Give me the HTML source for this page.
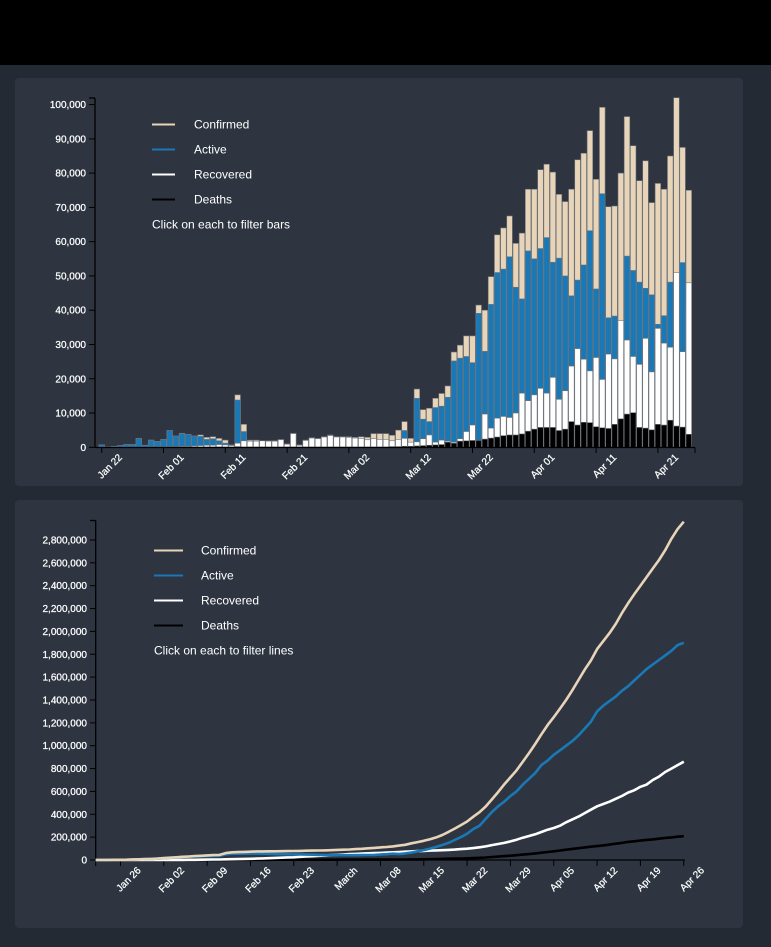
<!DOCTYPE html>
<html><head><meta charset="utf-8"><style>
html,body{margin:0;padding:0;background:#232a34;width:771px;height:947px;overflow:hidden;font-family:"Liberation Sans",sans-serif}
#top{position:absolute;left:0;top:0;width:771px;height:65px;background:#000}
.panel{position:absolute;left:15px;width:728px;background:#2e3540;border-radius:4px}
svg{position:absolute;left:0;top:0}
text{font-family:"Liberation Sans",sans-serif}
.tick{fill:#fff;font-size:10px;stroke:#fff;stroke-width:0.25}
.leg{fill:#fff;font-size:12px}
</style></head><body>
<div id="top"></div>
<div class="panel" style="top:78px;height:408px"></div>
<div class="panel" style="top:500px;height:428px"></div>
<svg id="chart" width="771" height="947"></svg>
<script>
// ---- Bar chart data (thousands, daily, Jan 22 .. Apr 26) ----
const barConfirmed=[0.7,0.1,0.3,0.5,0.8,0.8,2.6,0.6,2.1,1.7,2.3,4.9,3.3,4.1,3.8,3.3,3.6,2.9,3.1,2.6,2.1,0.7,15.3,6.7,2.1,2.1,1.9,1.9,1.9,2.3,1,4.1,0.7,2.1,2.8,2.6,3.1,3.6,3.1,3.1,3.1,2.9,3.1,2.9,4,4,4,3.5,5,7.5,2.6,17,11,11.4,14.3,15.7,17.9,27.8,29.8,32.5,32.5,41.5,40,49.8,62,64,67.5,59.5,62.5,75.3,75.3,81,82.6,80.3,73.8,71.7,75.3,83.9,85.8,92.4,78.2,99.2,70.2,70.4,80,96.5,88,77.8,83.6,71.4,77,75.3,85,102,87.5,75];
const barActive=[0.7,0.1,0.3,0.5,0.8,0.8,2.6,0.6,2.1,1.7,2.3,4.9,3.3,4,3.8,3.3,3.2,2.3,2.5,1.9,1.2,0.5,13.8,4.6,0,0,0,0,0,0,0,0,0,0,0,0,0,0,0,0,0,0,0,0,0.5,0.5,0.8,1,2,4.9,0.5,14.3,8.2,7.5,11.6,12,14.6,25.2,26,26.5,24.7,39.1,28,41.7,51,52,55.6,46.7,43.3,57.3,55,58,61.2,54,55.2,50,44.2,48.8,53.2,63.2,46.2,74,37.8,38.3,30,55.8,51.6,48.2,46.4,44.5,35.9,38.4,48.2,40,53.9,40];
const barRecovered=[0,0,0,0,0,0,0,0,0,0.1,0.1,0.2,0.2,0.3,0.3,0.4,0.5,0.6,0.6,0.8,0.7,0.5,1.2,1.9,1.8,1.8,1.9,1.8,1.8,2.2,0.9,4,0.6,2,2.7,2.5,3,3.4,3,3,2.9,2.7,2.6,2.2,2.5,2.3,2.3,1.9,2.3,2.6,1.5,1.6,2.5,3.6,1.5,2.1,1.8,1.5,2.5,4.6,6.5,1.5,9.7,5.6,8.5,9,8.7,10,15.8,13.6,15.3,17.2,15.8,20.4,14,16.5,23.7,28.8,25.7,22.3,26.2,19.8,27.2,25.8,37,31.3,26.5,24.2,31.8,22,34.7,30.4,29.2,51,27.9,48];
const barDeaths=[0,0,0,0,0,0,0,0,0.1,0.1,0.1,0.1,0.1,0.1,0.1,0.1,0.1,0.1,0.1,0.1,0.1,0.1,0.2,0.1,0.1,0.1,0.1,0.1,0.1,0.1,0.1,0.1,0.1,0.1,0.1,0.1,0.1,0.1,0.1,0.1,0.1,0.1,0.1,0.1,0.1,0.1,0.1,0.2,0.2,0.3,0.3,0.4,0.5,0.6,0.7,0.8,1.5,1.2,1.8,1.9,2,2,2.4,2.7,3,3.4,3.6,3.6,3.9,4.7,5.3,5.8,5.8,5.8,4.9,5.3,7.5,6.5,7.3,7.2,6,5.7,5.5,6.7,8.3,9.7,10.1,5.8,5.6,5.1,6.7,6.5,7.9,6.2,5.9,3.8];
const barYTicks=[0,10,20,30,40,50,60,70,80,90,100];
const barXTickDays=[0,10,20,30,40,50,60,70,80,90];
const barXTickLabels=["Jan 22","Feb 01","Feb 11","Feb 21","Mar 02","Mar 12","Mar 22","Apr 01","Apr 11","Apr 21"];
// ---- Line chart data (millions, cumulative) ----
const lineConfirmed=[0.0006,0.0006,0.0009,0.0014,0.0021,0.0029,0.0056,0.0062,0.0082,0.0099,0.012,0.017,0.020,0.024,0.028,0.031,0.034,0.037,0.040,0.043,0.045,0.060,0.067,0.069,0.071,0.073,0.075,0.075,0.076,0.076,0.077,0.078,0.079,0.080,0.081,0.082,0.083,0.084,0.086,0.088,0.090,0.092,0.095,0.098,0.102,0.106,0.110,0.114,0.119,0.126,0.133,0.146,0.157,0.168,0.182,0.198,0.219,0.246,0.275,0.305,0.337,0.379,0.418,0.468,0.530,0.594,0.661,0.723,0.785,0.860,0.935,1.015,1.100,1.180,1.250,1.325,1.400,1.485,1.575,1.665,1.745,1.845,1.915,1.985,2.065,2.160,2.245,2.325,2.400,2.475,2.550,2.625,2.710,2.810,2.895,2.960];
const lineActive=[0.0005,0.0006,0.0009,0.0013,0.002,0.0028,0.0054,0.0059,0.0079,0.0095,0.0115,0.016,0.019,0.0225,0.0255,0.028,0.0305,0.0325,0.0345,0.036,0.037,0.050,0.055,0.0555,0.056,0.0565,0.056,0.055,0.054,0.052,0.051,0.050,0.049,0.048,0.047,0.046,0.045,0.044,0.043,0.043,0.042,0.042,0.042,0.043,0.044,0.045,0.048,0.051,0.055,0.052,0.058,0.066,0.076,0.087,0.100,0.115,0.131,0.150,0.175,0.200,0.230,0.270,0.300,0.360,0.420,0.470,0.510,0.560,0.600,0.660,0.710,0.760,0.830,0.870,0.920,0.960,1.000,1.040,1.090,1.150,1.210,1.300,1.350,1.390,1.430,1.480,1.520,1.570,1.620,1.670,1.710,1.750,1.790,1.830,1.880,1.900];
const lineRecovered=[0,0,0,0,0,0,0.0001,0.0001,0.0001,0.0002,0.0003,0.0005,0.0006,0.0009,0.0011,0.0015,0.002,0.0026,0.0032,0.004,0.0047,0.0059,0.0067,0.008,0.0094,0.0108,0.0125,0.0143,0.0161,0.0182,0.020,0.0227,0.0234,0.0277,0.0304,0.0333,0.0367,0.0398,0.0427,0.0456,0.0482,0.0512,0.0538,0.0559,0.0584,0.0607,0.0625,0.0644,0.067,0.070,0.0726,0.075,0.0775,0.080,0.082,0.084,0.086,0.088,0.091,0.095,0.099,0.104,0.111,0.119,0.130,0.140,0.150,0.163,0.178,0.195,0.210,0.225,0.245,0.265,0.280,0.300,0.330,0.355,0.380,0.410,0.440,0.470,0.490,0.510,0.535,0.560,0.590,0.610,0.640,0.660,0.700,0.730,0.770,0.800,0.830,0.860];
const lineDeaths=[0,0,0,0,0,0,0.0001,0.0001,0.0002,0.0002,0.0003,0.0004,0.0004,0.0005,0.0006,0.0007,0.0008,0.0009,0.0009,0.001,0.0011,0.0013,0.0014,0.0015,0.0017,0.0018,0.0019,0.002,0.0021,0.0022,0.0022,0.0024,0.0025,0.0026,0.0027,0.0028,0.0029,0.0029,0.003,0.003,0.0031,0.0031,0.0032,0.0033,0.0034,0.0035,0.0036,0.0038,0.004,0.0043,0.0046,0.005,0.0056,0.0065,0.0072,0.0087,0.0099,0.0114,0.0132,0.013,0.015,0.017,0.019,0.022,0.026,0.030,0.034,0.038,0.042,0.047,0.052,0.058,0.064,0.070,0.076,0.083,0.090,0.097,0.103,0.110,0.116,0.122,0.128,0.135,0.143,0.150,0.158,0.164,0.170,0.176,0.180,0.186,0.193,0.198,0.204,0.208];
const lineYTicks=[0,0.2,0.4,0.6,0.8,1.0,1.2,1.4,1.6,1.8,2.0,2.2,2.4,2.6,2.8];
const lineXTickDays=[4,11,18,25,32,39,46,53,60,67,74,81,88,95];
const lineXTickLabels=["Jan 26","Feb 02","Feb 09","Feb 16","Feb 23","March","Mar 08","Mar 15","Mar 22","Mar 29","Apr 05","Apr 12","Apr 19","Apr 26"];

const NS="http://www.w3.org/2000/svg";
const svg=document.getElementById('chart');
function mk(tag,attrs,parent){const e=document.createElementNS(NS,tag);for(const k in attrs)e.setAttribute(k,attrs[k]);(parent||svg).appendChild(e);return e;}
const COL={c:"#e8d5b9",a:"#1a78b6",r:"#ffffff",d:"#000000"};
function fmt(n){return Math.round(n).toLocaleString('en-US');}

// ---- Bar chart axes ----
const bx=d=>101.7+6.18*d;
const by=v=>447.3-v*3.427;
const g1=mk('g',{});


[[barConfirmed,COL.c,'confirmed'],[barActive,COL.a,'active'],[barRecovered,COL.r,'recovered'],[barDeaths,COL.d,'deaths']].forEach(([arr,col,nm])=>{
  arr.forEach((v,i)=>{
    if(v<=0)return;
    const r=mk('rect',{x:bx(i)-2.8,y:by(v),width:5.6,height:by(0)-by(v),fill:col,stroke:'#6f747a','stroke-width':0.6},g1);
    
    
  });
});
let ax=mk('g',{},g1);


mk('line',{x1:95,y1:98,x2:95,y2:447.5,stroke:'#000','stroke-width':1.3},ax);
mk('line',{x1:89,y1:98,x2:95,y2:98,stroke:'#000','stroke-width':1.3},ax);
barYTicks.forEach(t=>{const y=by(t);mk('line',{x1:89,y1:y,x2:95,y2:y,stroke:'#000'},ax);const tx=mk('text',{x:86,y:y+3.5,'text-anchor':'end',class:'tick'},ax);tx.textContent=fmt(t*1000);});
ax=mk('g',{},g1);


mk('line',{x1:95,y1:447.5,x2:695,y2:447.5,stroke:'#000','stroke-width':1.3},ax);
mk('line',{x1:695,y1:447.5,x2:695,y2:453,stroke:'#000'},ax);
barXTickDays.forEach((d,i)=>{const x=bx(d);mk('line',{x1:x,y1:447,x2:x,y2:453,stroke:'#000'},ax);const tx=mk('text',{x:x+21,y:458,'text-anchor':'end',class:'tick',transform:`rotate(-45 ${x+21} 458)`},ax);tx.textContent=barXTickLabels[i];});

function legend(x0,y0,tx,lineLen,gap,note,prefix){
  [['Confirmed',COL.c],['Active',COL.a],['Recovered',COL.r],['Deaths',COL.d]].forEach(([n,c],i)=>{
    const g=mk('g',{style:'cursor:pointer'});
    
    
    mk('line',{x1:x0,y1:y0+i*gap,x2:x0+lineLen,y2:y0+i*gap,stroke:c,'stroke-width':2},g);
    const t=mk('text',{x:tx,y:y0+i*gap+4,class:'leg'},g);t.textContent=n;
  });
  const t=mk('text',{x:x0,y:y0+4*gap+4,class:'leg'});
  
  
  t.textContent=note;
}
legend(152,124.5,194,23,25,'Click on each to filter bars','bar');

// ---- Line chart ----
const lx=d=>95.7+6.19*d;
const ly=v=>860-v*114.3;
const g2=mk('g',{});


ax=mk('g',{},g2);


mk('line',{x1:95.7,y1:520.5,x2:95.7,y2:860,stroke:'#000','stroke-width':1.3},ax);
mk('line',{x1:90,y1:520.5,x2:95.7,y2:520.5,stroke:'#000','stroke-width':1.3},ax);
lineYTicks.forEach(t=>{const y=ly(t);mk('line',{x1:90,y1:y,x2:95.7,y2:y,stroke:'#000'},ax);const tx=mk('text',{x:87,y:y+3.5,'text-anchor':'end',class:'tick'},ax);tx.textContent=fmt(t*1e6);});
ax=mk('g',{},g2);


mk('line',{x1:95.7,y1:860,x2:685,y2:860,stroke:'#000','stroke-width':1.3},ax);
mk('line',{x1:95.7,y1:860,x2:95.7,y2:866,stroke:'#000'},ax);
lineXTickDays.forEach((d,i)=>{const x=lx(d);mk('line',{x1:x,y1:860,x2:x,y2:866,stroke:'#000'},ax);const tx=mk('text',{x:x+21,y:871,'text-anchor':'end',class:'tick',transform:`rotate(-45 ${x+21} 871)`},ax);tx.textContent=lineXTickLabels[i];});
[[lineDeaths,COL.d,'deaths'],[lineRecovered,COL.r,'recovered'],[lineActive,COL.a,'active'],[lineConfirmed,COL.c,'confirmed']].forEach(([arr,col,nm])=>{
  const p=mk('path',{d:arr.map((v,i)=>(i?'L':'M')+lx(i).toFixed(1)+','+ly(v).toFixed(1)).join(''),fill:'none',stroke:col,'stroke-width':2.6,'stroke-linejoin':'round'},g2);
  
  
});
legend(154,550.5,201,29,25,'Click on each to filter lines','line');
</script>
</body></html>
